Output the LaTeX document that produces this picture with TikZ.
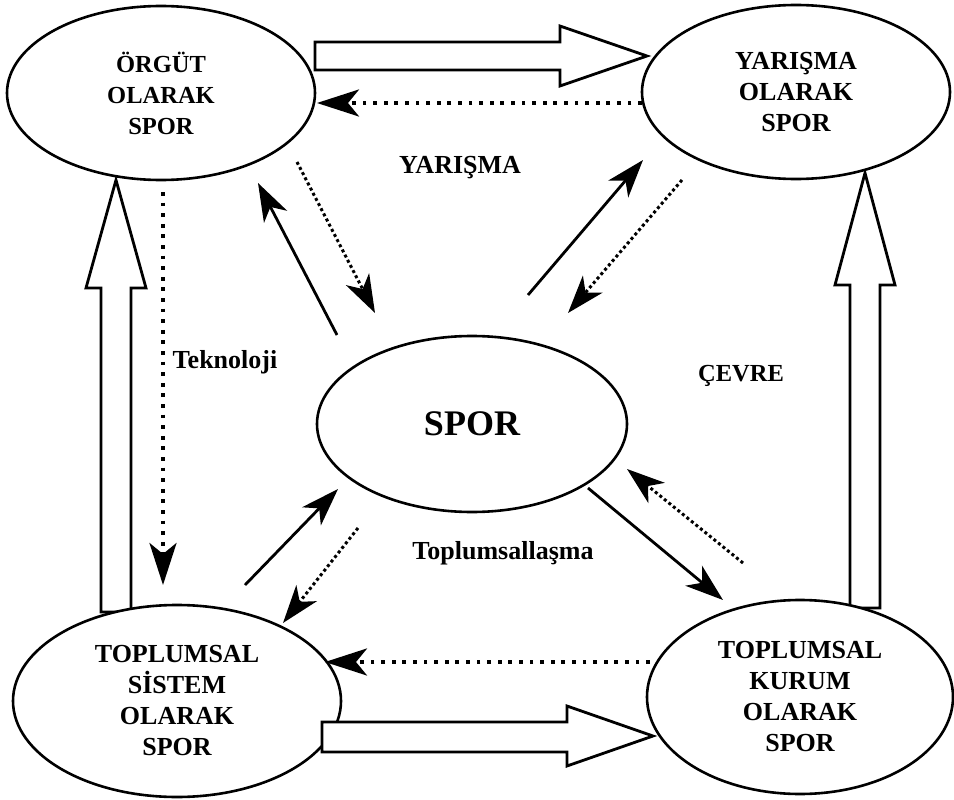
\documentclass[tikz,border=0pt]{standalone}
\usepackage{fontspec}
\setmainfont{Liberation Serif}
\usetikzlibrary{arrows.meta,shapes.geometric}
\begin{document}
\begin{tikzpicture}[x=1pt,y=-1pt,
  ell/.style={draw,ellipse,line width=2.6pt,fill=white,inner sep=0pt,align=center,
    font=\bfseries\fontsize{26}{31}\selectfont},
  blk/.style={draw,line width=2.8pt,fill=white,line join=miter},
  sol/.style={line width=2.8pt,-{Stealth[length=38pt,width=26pt,inset=11pt]}},
  dotl/.style={line width=3.8pt,dash pattern=on 3.8pt off 6.8pt,-{Stealth[length=42pt,width=27pt,inset=11pt]}},
  dotd/.style={line width=3pt,dash pattern=on 3pt off 2.8pt,-{Stealth[length=38pt,width=26pt,inset=11pt]}},
  lbl/.style={font=\bfseries\fontsize{26}{30}\selectfont}]
\useasboundingbox (0,0) rectangle (954,800);
\fill[white] (0,0) rectangle (954,800);

% block arrows (behind ellipses)
\draw[blk] (315,42) -- (560,42) -- (560,26) -- (647,56) -- (560,86) -- (560,70) -- (315,70) -- cycle;
\draw[blk] (101,612) -- (101,288) -- (86,288) -- (116,180) -- (146,288) -- (131,288) -- (131,612) -- cycle;
\draw[blk] (850,608) -- (850,285) -- (835,285) -- (865,173) -- (895,285) -- (880,285) -- (880,608) -- cycle;

% ellipses
\node[ell,minimum width=308pt,minimum height=174pt,font=\bfseries\fontsize{24.5}{31}\selectfont] (org) at (161,93) {ÖRGÜT\\OLARAK\\SPOR};
\node[ell,minimum width=308pt,minimum height=174pt] (yar) at (796,92) {YARIŞMA\\OLARAK\\SPOR};
\node[ell,minimum width=328pt,minimum height=192pt] (sis) at (177,701) {TOPLUMSAL\\SİSTEM\\OLARAK\\SPOR};
\node[ell,minimum width=306pt,minimum height=194pt] (kur) at (800,697) {TOPLUMSAL\\KURUM\\OLARAK\\SPOR};
\node[ell,minimum width=310pt,minimum height=176pt,font=\bfseries\fontsize{36}{40}\selectfont] (spor) at (472,424) {SPOR};

% bottom block arrow (over the ellipse edge)
\draw[blk] (322,722) -- (567,722) -- (567,706) -- (653,736) -- (567,766) -- (567,752) -- (322,752) -- cycle;

% labels
\node[lbl] (lyar) at (460,168) {YARIŞMA};
\node[lbl] (ltek) at (225,362) {Teknoloji};
\node[lbl,font=\bfseries\fontsize{24.5}{28}\selectfont] (lcev) at (741,376) {ÇEVRE};
\node[lbl] (ltop) at (503,553) {Toplumsallaşma};

% connector end points
\coordinate (a1s) at (337,335); \coordinate (a1e) at (258,183);
\coordinate (a2s) at (297,162); \coordinate (a2e) at (375,313);
\coordinate (a3s) at (528,295); \coordinate (a3e) at (643,160);
\coordinate (a4s) at (682,180); \coordinate (a4e) at (568,313);
\coordinate (a5s) at (642,103); \coordinate (a5e) at (317,103);
\coordinate (a6s) at (163,192); \coordinate (a6e) at (163,585);
\coordinate (a7s) at (245,585); \coordinate (a7e) at (338,489);
\coordinate (a8s) at (358,528); \coordinate (a8e) at (283,623);
\coordinate (a9s) at (588,488); \coordinate (a9e) at (723,600);
\coordinate (a10s) at (743,563); \coordinate (a10e) at (627,469);
\coordinate (a11s) at (650,662); \coordinate (a11e) at (325,662);

\draw[sol] (a1s) -- (a1e);
\draw[dotd] (a2s) -- (a2e);
\draw[sol] (a3s) -- (a3e);
\draw[dotd] (a4s) -- (a4e);
\draw[dotl] (a5s) -- (a5e);
\draw[dotl] (a6s) -- (a6e);
\draw[sol] (a7s) -- (a7e);
\draw[dotd] (a8s) -- (a8e);
\draw[sol] (a9s) -- (a9e);
\draw[dotd] (a10s) -- (a10e);
\draw[dotl] (a11s) -- (a11e);
\end{tikzpicture}
\end{document}
